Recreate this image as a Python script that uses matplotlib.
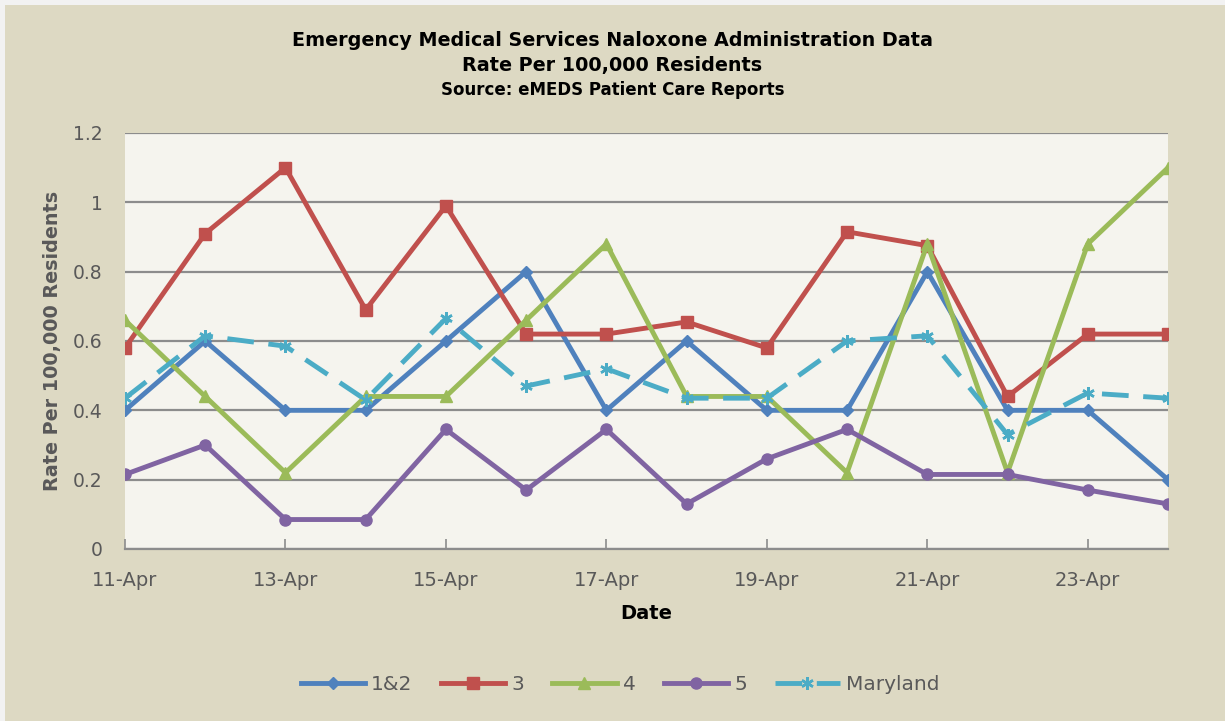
import matplotlib
matplotlib.use('Agg')
import matplotlib.pyplot as plt
from matplotlib.patches import Rectangle

# data
dates = ['11-Apr', '12-Apr', '13-Apr', '14-Apr', '15-Apr', '16-Apr', '17-Apr',
         '18-Apr', '19-Apr', '20-Apr', '21-Apr', '22-Apr', '23-Apr', '24-Apr']
s12 = [0.40, 0.60, 0.40, 0.40, 0.60, 0.80, 0.40, 0.60, 0.40, 0.40, 0.80, 0.40, 0.40, 0.20]
s3 = [0.58, 0.91, 1.10, 0.69, 0.99, 0.62, 0.62, 0.655, 0.58, 0.915, 0.875, 0.44, 0.62, 0.62]
s4 = [0.66, 0.44, 0.22, 0.44, 0.44, 0.66, 0.88, 0.44, 0.44, 0.22, 0.88, 0.22, 0.88, 1.10]
s5 = [0.215, 0.30, 0.085, 0.085, 0.345, 0.17, 0.345, 0.13, 0.26, 0.345, 0.215, 0.215, 0.17, 0.13]
md = [0.435, 0.615, 0.585, 0.43, 0.665, 0.47, 0.52, 0.435, 0.435, 0.60, 0.615, 0.33, 0.45, 0.435]

plt.rcParams['font.family'] = ['DejaVu Sans']

fig = plt.figure(figsize=(12.25, 7.21), dpi=100, facecolor='#F2F2F2')
fig.patches.append(Rectangle((5/1225, 0), 1, 1 - 5/721, transform=fig.transFigure,
                             facecolor='#DDD9C3', edgecolor='none', zorder=-10))
ax = fig.add_axes([125/1225, 1 - 549/721, (1168-125)/1225, (549-133)/721])
ax.set_facecolor('#F5F4EE')

x = list(range(len(dates)))
lw = 3.5
ax.plot(x, s12, color='#4F81BD', lw=lw, marker='D', ms=6, label='1&2', zorder=3)
ax.plot(x, s3, color='#C0504D', lw=lw, marker='s', ms=8, label='3', zorder=3)
ax.plot(x, s4, color='#9BBB59', lw=lw, marker='^', ms=9, label='4', zorder=3)
ax.plot(x, s5, color='#8064A2', lw=lw, marker='o', ms=8, label='5', zorder=3)
ax.plot(x, md, color='#4BACC6', lw=lw, marker=(6, 2, 0), ms=9, mew=1.8,
        dashes=(5.5, 3), label='Maryland', zorder=3)

ax.set_xlim(0, 13)
ax.set_ylim(0, 1.2)
ax.set_yticks([0, 0.2, 0.4, 0.6, 0.8, 1.0, 1.2])
ax.set_yticklabels(['0', '0.2', '0.4', '0.6', '0.8', '1', '1.2'])
ax.set_xticks(x[::2])
ax.set_xticklabels(dates[::2])
ax.grid(axis='y', color='#8C8C8C', lw=1.6, zorder=1)
for side in ['left', 'right', 'top']:
    ax.spines[side].set_visible(False)
ax.spines['bottom'].set_color('#8C8C8C')
ax.spines['bottom'].set_linewidth(1.6)
ax.tick_params(axis='x', direction='in', length=7, width=1.2, color='#8C8C8C',
               labelsize=14, labelcolor='#595959', pad=16)
ax.tick_params(axis='y', length=0, labelsize=13.5, labelcolor='#595959', pad=16)

ax.set_xlabel('Date', fontsize=14, fontweight='bold', labelpad=10)
ax.set_ylabel('Rate Per 100,000 Residents', fontsize=13.8, fontweight='bold',
              color='#595959', labelpad=8)

fig.text(0.5, 1 - 40/721, 'Emergency Medical Services Naloxone Administration Data',
         ha='center', va='center', fontsize=13.8, fontweight='bold')
fig.text(0.5, 1 - 65/721, 'Rate Per 100,000 Residents',
         ha='center', va='center', fontsize=13.8, fontweight='bold')
fig.text(0.5, 1 - 90/721, 'Source: eMEDS Patient Care Reports',
         ha='center', va='center', fontsize=12, fontweight='bold')

leg = fig.legend(loc='center', bbox_to_anchor=(0.506, 1 - 685/721), ncol=5,
                 frameon=False, fontsize=14.5, handlelength=3.2, columnspacing=1.4,
                 handletextpad=0.3)
for t in leg.get_texts():
    t.set_color('#595959')

fig.savefig('out.png', dpi=100, facecolor=fig.get_facecolor())
